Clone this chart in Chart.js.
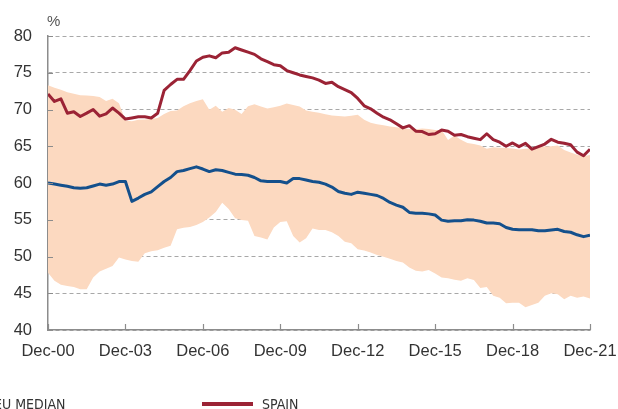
<!DOCTYPE html>
<html><head><meta charset="utf-8">
<script src="https://cdn.jsdelivr.net/npm/chart.js@4.4.1/dist/chart.umd.min.js"></script>
<style>
html,body{margin:0;padding:0;background:#fff;overflow:hidden}
#wrap{position:relative;width:618px;height:409px;overflow:hidden}
canvas{position:absolute;left:0;top:0}
.t{position:absolute;white-space:nowrap;color:#333}
.leg{font-family:'Liberation Sans Narrow','DejaVu Sans Condensed',sans-serif;font-size:14px;line-height:14px}
</style></head><body>
<div id="wrap">
<canvas id="c" width="618" height="409"></canvas>
<div class="t" style="left:47px;top:13px;font:15px/15px 'Liberation Sans',Arial,sans-serif;color:#555">%</div>
<div style="position:absolute;left:-70px;top:402px;width:51px;height:4px;background:#14508c"></div>
<div class="t leg" style="left:-6px;top:397px">EU MEDIAN</div>
<div style="position:absolute;left:202px;top:402px;width:51px;height:4px;background:#9b2335"></div>
<div class="t leg" style="left:262px;top:397px">SPAIN</div>
</div>
<script>
// Quarterly observations, Dec-00 .. Dec-21 (85 quarters)
const tickLabels = ['Dec-00','Dec-03','Dec-06','Dec-09','Dec-12','Dec-15','Dec-18','Dec-21'];
const yTicks = [40,45,50,55,60,65,70,75,80];

const spain = [72.1,71.1,71.45,69.5,69.7,69.05,69.5,70.0,69.1,69.4,70.2,69.5,68.7,68.85,69.0,69.0,68.85,69.5,72.6,73.4,74.1,
74.1,75.3,76.6,77.1,77.3,77.05,77.7,77.8,78.4,78.1,77.8,77.5,76.9,76.5,76.1,75.95,75.3,75.0,74.7,74.5,74.3,74.0,
73.55,73.7,73.1,72.7,72.3,71.5,70.5,70.1,69.5,68.95,68.6,68.05,67.5,67.8,67.05,67.0,66.6,66.7,67.2,67.05,66.5,66.6,
66.3,66.1,65.9,66.7,65.9,65.55,65.0,65.45,64.95,65.4,64.6,64.95,65.3,65.95,65.55,65.4,65.2,64.2,63.7,64.6];

const euMedian = [60.0,59.86,59.7,59.55,59.35,59.3,59.35,59.6,59.85,59.7,59.85,60.2,60.2,57.5,57.95,58.45,58.8,59.5,60.2,60.75,61.55,
61.7,61.95,62.2,61.9,61.55,61.8,61.7,61.45,61.2,61.15,61.05,60.75,60.3,60.2,60.2,60.2,60.0,60.6,60.6,60.4,60.2,60.1,
59.85,59.45,58.85,58.6,58.45,58.75,58.6,58.45,58.3,57.9,57.35,57.0,56.7,56.0,55.9,55.9,55.8,55.65,54.95,54.8,54.85,54.85,
55.0,54.95,54.8,54.55,54.55,54.45,53.95,53.7,53.65,53.65,53.65,53.5,53.5,53.6,53.7,53.4,53.3,52.95,52.7,52.9];

const euMax = [73.3,72.95,72.7,72.35,72.15,71.95,71.9,71.85,71.7,71.15,71.45,70.85,68.5,68.4,68.6,68.65,68.7,68.85,69.4,69.8,69.85,
70.45,70.85,71.15,71.4,69.95,70.5,69.7,70.2,69.95,69.4,70.45,70.7,70.4,70.15,70.3,70.5,70.8,70.6,70.4,69.85,69.7,69.55,
69.35,69.2,69.1,69.05,69.15,69.3,68.6,68.2,68.0,67.85,67.7,67.6,67.45,67.35,67.3,67.4,67.35,67.2,67.2,65.85,66.45,65.9,
65.45,65.3,65.1,64.65,64.85,64.8,64.75,64.7,64.55,64.65,64.7,64.85,64.95,65.0,65.1,64.5,64.15,63.85,63.65,63.8];

const euMin = [47.8,46.7,46.15,46.0,45.85,45.55,45.55,47.15,47.95,48.35,48.7,49.85,49.6,49.4,49.3,50.45,50.7,50.85,51.2,51.45,53.7,
53.9,54.0,54.3,54.7,55.3,56.05,57.3,56.45,55.2,54.95,54.85,52.8,52.6,52.3,53.95,54.7,54.8,52.8,51.9,52.5,53.8,53.6,
53.6,53.3,52.8,52.0,51.8,51.0,50.8,50.55,50.2,49.95,49.7,49.4,49.2,48.5,48.05,47.95,48.15,47.7,47.15,47.05,46.85,46.7,
47.05,46.8,45.7,45.85,44.65,44.4,43.65,43.7,43.7,43.1,43.4,43.7,44.65,45.0,44.85,44.2,44.65,44.4,44.55,44.3];

const pts = arr => arr.map((v,i)=>({x:i,y:v}));

const tickMarks = {
  id:'tickMarks',
  afterDraw(chart){
    const {ctx, chartArea:a, scales:{x,y}} = chart;
    ctx.save();
    ctx.strokeStyle='#8c8c8c'; ctx.lineWidth=1.2;
    ctx.beginPath();
    x.ticks.forEach(t=>{const px=Math.round(x.getPixelForValue(t.value))+0.5; ctx.moveTo(px,a.bottom); ctx.lineTo(px,a.bottom-6);});
    y.ticks.forEach(t=>{const py=Math.round(y.getPixelForValue(t.value))+0.5; ctx.moveTo(a.left,py); ctx.lineTo(a.left+5,py);});
    ctx.stroke();
    ctx.restore();
  }
};

const font = {family:"'Liberation Sans', Arial, sans-serif", size:16.5};

new Chart(document.getElementById('c'), {
  type:'line',
  data:{datasets:[
    {label:'SPAIN', data:pts(spain), borderColor:'#9b2335', borderWidth:3, pointRadius:0, tension:0, fill:false, borderJoinStyle:'round'},
    {label:'EU MEDIAN', data:pts(euMedian), borderColor:'#14508c', borderWidth:3, pointRadius:0, tension:0, fill:false, borderJoinStyle:'round'},
    {label:'EU max', data:pts(euMax), borderWidth:0, borderColor:'rgba(0,0,0,0)', backgroundColor:'#fcd9c0', pointRadius:0, tension:0, fill:'+1'},
    {label:'EU min', data:pts(euMin), borderWidth:0, borderColor:'rgba(0,0,0,0)', pointRadius:0, tension:0, fill:false}
  ]},
  options:{
    responsive:false, animation:false, events:[],
    layout:{padding:{left:0,right:28,top:36,bottom:0}},
    plugins:{legend:{display:false}, tooltip:{enabled:false}},
    scales:{
      x:{type:'linear', min:0, max:84,
         afterFit(s){s.height=79; s.paddingLeft=0; s.paddingRight=0;},
         grid:{display:false, drawTicks:false},
         border:{display:true, color:'#8c8c8c', width:1.5},
         ticks:{stepSize:12, padding:12, color:'#333', font, maxRotation:0, autoSkip:false,
                callback:v=>tickLabels[v/12]}
      },
      y:{min:40, max:80,
         afterFit(s){s.width=48; s.paddingTop=0; s.paddingBottom=0;},
         afterBuildTicks(s){s.ticks=yTicks.map(v=>({value:v}));},
         grid:{color:'#a8a8a8', lineWidth:1, drawTicks:false},
         border:{display:true, color:'#8c8c8c', width:1.5, dash:[4,3]},
         ticks:{padding:16, color:'#333', font}
      }
    }
  },
  plugins:[tickMarks]
});
</script>
</body></html>
